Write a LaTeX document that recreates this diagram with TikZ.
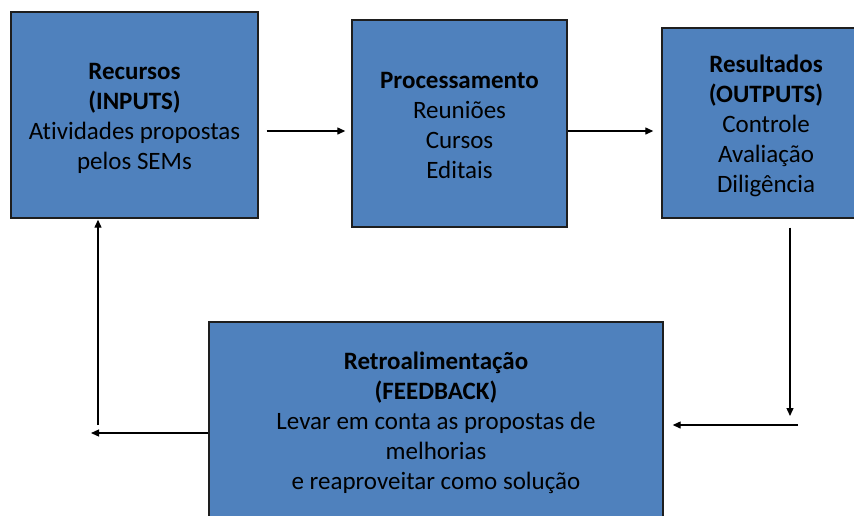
\documentclass[tikz,border=0pt]{standalone}
\usepackage{fontspec}
\setmainfont[Ligatures=NoCommon]{Carlito}
\usetikzlibrary{arrows.meta,calc}
\definecolor{boxblue}{HTML}{4F81BD}
\definecolor{boxline}{HTML}{1E1E1E}
\begin{document}
\begin{tikzpicture}[x=1pt,y=-1pt,
  box/.style={draw=boxline,fill=boxblue,line width=1.4pt,rectangle,inner sep=0pt},
  txt/.style={inner sep=0pt,align=center,font=\fontsize{25}{30}\selectfont,text=black},
  arr/.style={draw=black,line width=1.3pt,-{Triangle[length=8pt,width=7pt]}}]
\useasboundingbox (0,0) rectangle (854,515);
\clip (0,0) rectangle (854,515);
\fill[white] (0,0) rectangle (854,515);
\node[box,minimum width=247,minimum height=206] (box1) at (134.5,115) {};
\node[box,minimum width=215,minimum height=207] (box2) at (459.5,123.5) {};
\node[box,minimum width=208,minimum height=190] (box3) at (766,123) {};
\node[box,minimum width=454,minimum height=196] (box4) at (436,420) {};
\node[txt] (t1) at ([yshift=-3pt]box1.center)
  {\textbf{Recursos}\\\textbf{(INPUTS)}\\Atividades propostas\\pelos SEMs};
\node[txt] (t2) at ([yshift=-2pt]box2.center)
  {\textbf{Processamento}\\Reuniões\\Cursos\\Editais};
\node[txt] (t3) at ([yshift=-3pt]box3.center)
  {\textbf{Resultados}\\\textbf{(OUTPUTS)}\\Controle\\Avaliação\\Diligência};
\node[txt] (t4) at ([yshift=-3pt]box4.center)
  {\textbf{Retroalimentação}\\\textbf{(FEEDBACK)}\\Levar em conta as propostas de\\melhorias\\e reaproveitar como solução};
\coordinate (downend) at (790,416);
\coordinate (leftstart) at (798,425);
\coordinate (leftend) at (91,433);
\coordinate (upstart) at (98,425);
\draw[arr,shorten >=6pt] ([xshift=8pt]box1.east |- 0,131) -- (box2.west |- 0,131);
\draw[arr,shorten >=8pt] (box2.east |- 0,131) -- (box3.west |- 0,131);
\draw[arr] ([yshift=-9pt]box3.south -| downend) -- (downend);
\draw[arr,shorten >=9pt] (leftstart) -- (box4.east |- leftstart);
\draw[arr] (box4.west |- leftend) -- (leftend);
\draw[arr,shorten >=1pt] (upstart) -- (box1.south -| upstart);
\end{tikzpicture}
\end{document}
